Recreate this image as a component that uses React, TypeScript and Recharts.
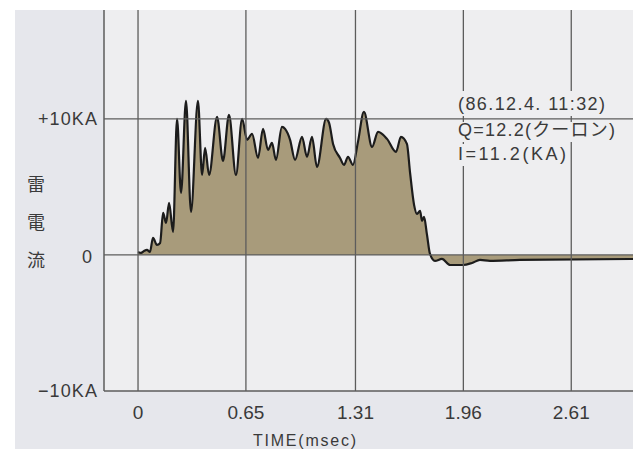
import React from 'react';
import { ComposedChart, Area, XAxis, YAxis, ReferenceLine, CartesianGrid } from 'recharts';

const timeMs = [0, 0.018, 0.036, 0.054, 0.072, 0.09, 0.114, 0.133, 0.151, 0.169, 0.187, 0.211, 0.235, 0.259, 0.289, 0.319, 0.361, 0.386, 0.404, 0.428, 0.476, 0.512, 0.548, 0.59, 0.627, 0.657, 0.687, 0.723, 0.753, 0.783, 0.807, 0.831, 0.867, 0.886, 0.916, 0.946, 0.988, 1.018, 1.048, 1.078, 1.133, 1.151, 1.175, 1.217, 1.241, 1.265, 1.295, 1.325, 1.361, 1.41, 1.446, 1.5, 1.554, 1.584, 1.62, 1.639, 1.663, 1.681, 1.699, 1.711, 1.723, 1.741, 1.759, 1.789, 1.831, 1.88, 1.958, 2.012, 2.06, 2.12, 2.301, 2.982];
const currentKA = [0.22, 0.15, 0.29, 0.37, 0.22, 1.25, 0.74, 0.88, 3.09, 2.35, 3.82, 1.69, 10.0, 4.56, 11.32, 3.16, 11.32, 5.88, 7.87, 5.88, 10.15, 6.91, 10.29, 5.88, 10.0, 8.46, 8.9, 7.13, 9.26, 7.72, 8.24, 6.99, 9.41, 9.26, 8.46, 6.99, 8.68, 7.21, 8.68, 6.47, 10.0, 9.71, 8.16, 7.13, 6.62, 7.21, 6.62, 8.31, 10.51, 7.94, 9.04, 8.53, 7.57, 8.68, 8.16, 6.03, 3.68, 3.01, 3.24, 2.5, 2.79, 1.47, 0.07, -0.44, -0.29, -0.74, -0.74, -0.59, -0.37, -0.44, -0.37, -0.3];
const xTicks = [0, 0.65, 1.31, 1.96, 2.61];
const yTicks = [-10, 0, 10];
const yTickLabels: Record<string, string> = { '-10': '−10KA', '0': '0', '10': '+10KA' };
const yAxisTitle = ['雷', '電', '流'];
const xAxisTitle = 'TIME(msec)';
const noteLines = ['(86.12.4. 11:32)', 'Q=12.2(クーロン)', 'I=11.2(KA)'];

const data = timeMs.map((t, i) => ({ t, v: currentKA[i] }));

const FONT = '"Liberation Sans", "Noto Sans CJK JP", sans-serif';
const TEXT = '#3a3a3a';
const GRID = '#5c5c5c';
const PLOT_BG = '#eeeef0';

const XTick = (props: any) => {
  const { x, y, payload } = props;
  return (
    <text x={x} y={y} textAnchor="middle" dominantBaseline="central" fontSize={19} fill={TEXT} fontFamily={FONT}>
      {String(payload.value)}
    </text>
  );
};

const YTick = (props: any) => {
  const { x, y, payload } = props;
  const label = yTickLabels[String(payload.value)];
  const isZero = payload.value === 0;
  return (
    <text x={isZero ? x - 5 : x} y={y + (isZero ? 2 : 0)} textAnchor="end" dominantBaseline="central" fontSize={18} fill={TEXT} fontFamily={FONT}
      textLength={isZero ? undefined : 59} lengthAdjust="spacing">
      {label}
    </text>
  );
};

export default function App() {
  return (
    <div style={{ position: 'absolute', left: 0, top: 0, width: 638, height: 449, background: '#fff', overflow: 'hidden' }}>
      <div style={{ position: 'absolute', left: 15, top: 10, width: 618, height: 439, background: '#e6e7ec' }} />
      <div style={{ position: 'absolute', left: 0, top: 0 }}>
        <ComposedChart width={638} height={449} data={data} margin={{ top: 10, right: 5, left: 0, bottom: 0 }}>
          <CartesianGrid fill={PLOT_BG} stroke="none" horizontal={false} vertical={false} />
          <XAxis dataKey="t" type="number" domain={[-0.205, 2.982]} allowDataOverflow ticks={xTicks} height={58}
            tickSize={0} tickMargin={21} tickLine={false} axisLine={{ stroke: GRID, strokeWidth: 1.5 }} tick={<XTick />} interval={0} />
          <YAxis type="number" domain={[-10, 18]} allowDataOverflow ticks={yTicks} width={104}
            tickSize={0} tickMargin={7} tickLine={false} axisLine={{ stroke: GRID, strokeWidth: 1.5 }} tick={<YTick />} interval={0} />
          <Area type="monotone" dataKey="v" baseValue={0} stroke="#1c1c1c" strokeWidth={2.2} strokeLinejoin="round" fill="#a89b7b" fillOpacity={1}
            dot={false} activeDot={false} isAnimationActive={false} />
          {xTicks.map((t) => (
            <ReferenceLine key={'x' + t} x={t} stroke={GRID} strokeWidth={1.3} />
          ))}
          <ReferenceLine y={10} stroke={GRID} strokeWidth={1.3} />
          <ReferenceLine y={0} stroke={GRID} strokeWidth={1.3} />
        </ComposedChart>
      </div>
      <svg width={638} height={449} style={{ position: 'absolute', left: 0, top: 0, pointerEvents: 'none' }}>
        <rect x={455} y={91} width={154} height={25} fill={PLOT_BG} />
        <rect x={455} y={122} width={164} height={20} fill={PLOT_BG} />
        <rect x={455} y={144} width={115} height={22} fill={PLOT_BG} />
        <text x={458} y={110} fontSize={18} fill={TEXT} fontFamily={FONT} textLength={147} lengthAdjust="spacing">{noteLines[0]}</text>
        <text x={458} y={136} fontSize={18} fill={TEXT} fontFamily={FONT} textLength={157} lengthAdjust="spacing">{noteLines[1]}</text>
        <text x={458} y={160} fontSize={18} fill={TEXT} fontFamily={FONT} textLength={108} lengthAdjust="spacing">{noteLines[2]}</text>
        {yAxisTitle.map((c, i) => (
          <text key={c} x={36} y={[183, 221, 259][i]} textAnchor="middle" dominantBaseline="central" fontSize={18} fill={TEXT}
            fontFamily={'"Noto Sans CJK JP", sans-serif'}>{c}</text>
        ))}
        <text x={253} y={446} fontSize={16} fill={TEXT} fontFamily={FONT} textLength={103} lengthAdjust="spacing">{xAxisTitle}</text>
      </svg>
    </div>
  );
}
